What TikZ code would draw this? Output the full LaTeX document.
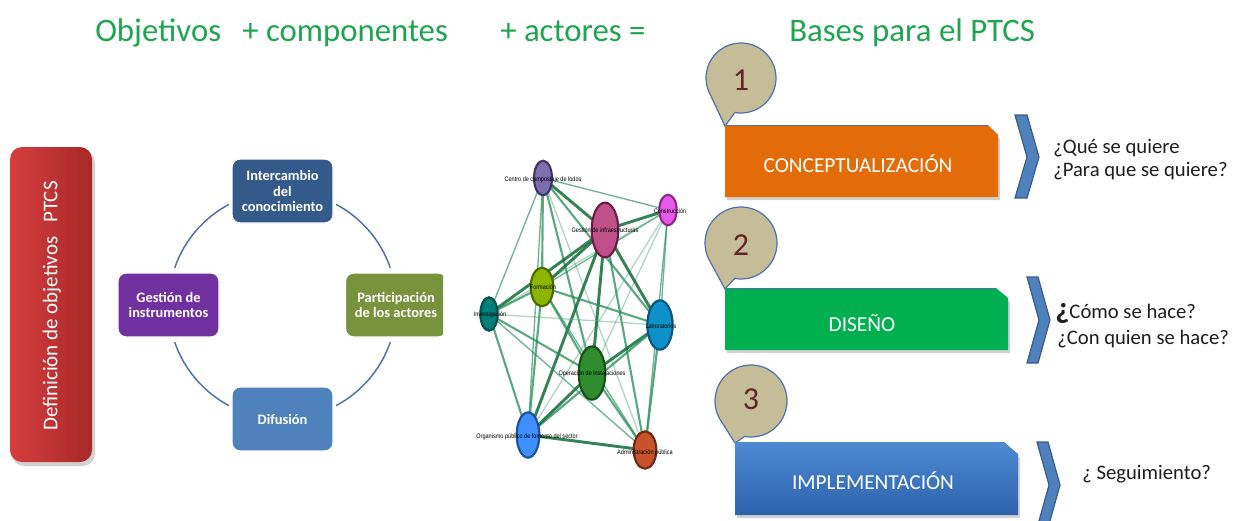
\documentclass[tikz,border=0pt]{standalone}
\usepackage{fontspec}
\setmainfont{Carlito}
\newfontfamily\netfont[FakeStretch=0.85]{Liberation Sans}
\usetikzlibrary{shapes.geometric,backgrounds,calc}
\definecolor{titlegreen}{RGB}{30,165,80}
\definecolor{redL}{RGB}{214,62,62}
\definecolor{redR}{RGB}{168,40,40}
\definecolor{cycblue}{RGB}{79,112,170}
\definecolor{topblue}{RGB}{52,90,140}
\definecolor{purp}{RGB}{112,48,160}
\definecolor{olive}{RGB}{119,147,60}
\definecolor{difblue}{RGB}{79,129,189}
\definecolor{bubtan}{RGB}{196,189,151}
\definecolor{numbrown}{RGB}{99,37,35}
\definecolor{orangebox}{RGB}{227,108,9}
\definecolor{greenbox}{RGB}{0,176,80}
\definecolor{implT}{RGB}{78,138,212}
\definecolor{implB}{RGB}{44,98,172}
\definecolor{chevfill}{RGB}{79,129,189}
\definecolor{chevdraw}{RGB}{56,93,138}
\definecolor{edgegreen}{RGB}{35,140,85}
\definecolor{edgedark}{RGB}{18,110,55}
\definecolor{qtext}{RGB}{30,30,30}
\tikzset{
  titletext/.style={anchor=base west, text=titlegreen, font=\fontsize{24.6}{28}\selectfont, inner sep=0pt},
  cbox/.style={rounded corners=6pt, draw=white, line width=1pt, text=white, align=center,
    font=\bfseries\fontsize{10.8}{11.8}\selectfont, minimum width=75.75pt, minimum height=48pt, inner sep=1pt},
  cyc/.style={cycblue, line width=1.1pt},
  netnode/.style={ellipse, line width=1.6pt, inner sep=0pt},
  netlabel/.style={font=\netfont\fontsize{4.9}{5}\selectfont, inner sep=0pt, text=black},
  ea/.style={edgedark, line width=2.2pt, opacity=0.85},
  eb/.style={edgegreen, line width=1.6pt, opacity=0.75},
  ec/.style={edgegreen, line width=1.0pt, opacity=0.65},
  ed/.style={edgegreen!70, line width=1.0pt, opacity=0.5},
  bubble/.style={fill=bubtan, draw=cycblue, line width=0.9pt},
  numtext/.style={text=numbrown, font=\fontsize{24}{24}\selectfont, inner sep=0pt},
  boxtext/.style={text=white, font=\fontsize{16}{17}\selectfont, inner sep=0pt},
  chev/.style={fill=chevfill, draw=chevdraw, line width=0.9pt, line join=miter},
  qtxt/.style={anchor=base west, text=qtext, font=\fontsize{15.5}{17}\selectfont, inner sep=0pt},
  shadowbox/.style={fill=black, opacity=0.18}
}
\begin{document}
\begin{tikzpicture}[x=0.75pt,y=-0.75pt]
\useasboundingbox (0,0) rectangle (1239,521);
\begin{pgfonlayer}{background}
\fill[white] (0,0) rectangle (1239,521);
\end{pgfonlayer}

% titles
\node[titletext] (t1) at (95,41) {Objetivos};
\node[titletext] (t2) at (242,41) {+ componentes};
\node[titletext] (t3) at (500,41) {+ actores =};
\node[titletext] (t4) at (789,41) {Bases para el PTCS};

% red box
\fill[shadowbox, rounded corners=9pt] (12,151) rectangle (95,466);
\shade[left color=redL, right color=redR, rounded corners=9pt] (10,147) rectangle (92,462);
\node[rotate=90, text=white, font=\fontsize{15.7}{17}\selectfont, inner sep=0pt] (def) at (52,306) {Definición de objetivos\ \ \ PTCS};

% cycle
\coordinate (cc) at (282.5,305);
\foreach \a/\b in {19/62,118/161,199/242,298/341}{
  \draw[cyc] ($(cc)+(\a:114)$) arc[start angle=\a, end angle=\b, radius=114];
}
\node[cbox, fill=topblue] (ic) at (282.5,191) {Intercambio\\del\\conocimiento};
\node[cbox, fill=purp] (gi) at (168.5,305) {Gestión de\\instrumentos};
\begin{scope}
\clip (0,0) rectangle (443,521);
\node[cbox, fill=olive] (pa) at (396,305) {Participación\\de los actores};
\end{scope}
\node[cbox, fill=difblue] (di) at (282.5,419) {Difusión};

% network
\node[netnode, fill={rgb,255:red,125;green,110;blue,175}, draw={rgb,255:red,65;green,52;blue,100}, minimum width=13.5pt, minimum height=26pt] (cen) at (543,178) {};
\node[netnode, fill={rgb,255:red,232;green,90;blue,232}, draw={rgb,255:red,140;green,40;blue,140}, minimum width=13pt, minimum height=23pt] (con) at (668,210) {};
\node[netnode, fill={rgb,255:red,192;green,80;blue,138}, draw={rgb,255:red,107;green,30;blue,69}, minimum width=20pt, minimum height=41pt] (ges) at (605,230) {};
\node[netnode, fill={rgb,255:red,141;green,181;blue,0}, draw={rgb,255:red,74;green,106;blue,0}, minimum width=17pt, minimum height=29pt] (frm) at (542,287) {};
\node[netnode, fill={rgb,255:red,0;green,128;blue,120}, draw={rgb,255:red,0;green,80;blue,75}, minimum width=13pt, minimum height=25pt] (inv) at (489,314) {};
\node[netnode, fill={rgb,255:red,14;green,144;blue,200}, draw={rgb,255:red,10;green,85;blue,125}, minimum width=19pt, minimum height=37pt] (lab) at (660,325) {};
\node[netnode, fill={rgb,255:red,46;green,139;blue,46}, draw={rgb,255:red,24;green,80;blue,24}, minimum width=20pt, minimum height=40pt] (ope) at (592,373) {};
\node[netnode, fill={rgb,255:red,63;green,143;blue,255}, draw={rgb,255:red,30;green,80;blue,160}, minimum width=17pt, minimum height=34pt] (org) at (528,435) {};
\node[netnode, fill={rgb,255:red,200;green,82;blue,42}, draw={rgb,255:red,110;green,40;blue,20}, minimum width=17pt, minimum height=28pt] (adm) at (645,450) {};
\begin{pgfonlayer}{background}
\draw[ec] (cen.center) -- (con.center);
\draw[ea] (cen.center) -- (ges.center);
\draw[eb] (cen.center) -- (frm.center);
\draw[ec] (cen.center) -- (inv.center);
\draw[eb] (cen.center) -- (ope.center);
\draw[eb] (cen.center) -- (lab.center);
\draw[ec] (cen.center) -- (org.center);
\draw[ed] (cen.center) -- (adm.center);
\draw[ea] (con.center) -- (ges.center);
\draw[ec] (con.center) -- (frm.center);
\draw[ec] (con.center) -- (lab.center);
\draw[ed] (con.center) -- (ope.center);
\draw[ed] (con.center) -- (org.center);
\draw[ec] (con.center) -- (adm.center);
\draw[ed] (con.center) -- (inv.center);
\draw[ea] (ges.center) -- (frm.center);
\draw[ea] (ges.center) -- (inv.center);
\draw[ea] (ges.center) -- (ope.center);
\draw[ea] (ges.center) -- (lab.center);
\draw[ea] (ges.center) -- (org.center);
\draw[eb] (ges.center) -- (adm.center);
\draw[eb] (frm.center) -- (inv.center);
\draw[eb] (frm.center) -- (lab.center);
\draw[eb] (frm.center) -- (org.center);
\draw[eb] (frm.center) -- (ope.center);
\draw[ec] (frm.center) -- (adm.center);
\draw[ed] (inv.center) -- (lab.center);
\draw[eb] (inv.center) -- (ope.center);
\draw[eb] (inv.center) -- (org.center);
\draw[ec] (inv.center) -- (adm.center);
\draw[ea] (lab.center) -- (ope.center);
\draw[eb] (lab.center) -- (org.center);
\draw[eb] (lab.center) -- (adm.center);
\draw[ea] (ope.center) -- (org.center);
\draw[eb] (ope.center) -- (adm.center);
\draw[ea] (org.center) -- (adm.center);
\end{pgfonlayer}
\node[netlabel] (lcen) at (543,180) {Centro de compostaje de lodos};
\node[netlabel] (lcon) at (670,211) {Construcción};
\node[netlabel] (lges) at (605,230) {Gestión de infraestructuras};
\node[netlabel] (lfrm) at (543,287) {Formación};
\node[netlabel] (linv) at (490,315) {Investigación};
\node[netlabel] (llab) at (661,326) {Laboratorios};
\node[netlabel] (lope) at (592,374) {Operación de instalaciones};
\node[netlabel] (lorg) at (527,437) {Organismo público de fomento del sector};
\node[netlabel] (ladm) at (645,453) {Administración pública};

% bubbles
\coordinate (c1) at (741,78); \coordinate (p1) at (725,126);
\draw[bubble] (p1) -- ($(c1)+(100:35)$) arc[start angle=100, end angle=-210, radius=35] -- cycle;
\node[numtext] (n1) at (741,80) {1};
\coordinate (c2) at (741,243); \coordinate (p2) at (725,289);
\draw[bubble] (p2) -- ($(c2)+(100:36)$) arc[start angle=100, end angle=-210, radius=36] -- cycle;
\node[numtext] (n2) at (741,245) {2};
\coordinate (c3) at (751,401); \coordinate (p3) at (735,443);
\draw[bubble] (p3) -- ($(c3)+(100:36)$) arc[start angle=100, end angle=-210, radius=36] -- cycle;
\node[numtext] (n3) at (751,399) {3};

% right boxes
\fill[shadowbox] (727,129) -- (988,129) -- (1000,139) -- (1000,200) -- (727,200) -- cycle;
\fill[orangebox] (725,125) -- (988,125) -- (998,135) -- (998,197) -- (725,197) -- cycle;
\draw[cycblue, line width=0.6pt] (725,125) -- (988,125);
\node[boxtext] (b1) at (858,164) {CONCEPTUALIZACIÓN};

\fill[shadowbox] (727,292) -- (996,292) -- (1010,302) -- (1010,353) -- (727,353) -- cycle;
\fill[greenbox] (725,288) -- (996,288) -- (1008,298) -- (1008,350) -- (725,350) -- cycle;
\draw[cycblue, line width=0.6pt] (725,288) -- (996,288);
\node[boxtext] (b2) at (862,323) {DISEÑO};

\fill[shadowbox] (737,446) -- (1006,446) -- (1020,458) -- (1020,518) -- (737,518) -- cycle;
\shade[top color=implT, bottom color=implB] (735,442) -- (1004,442) -- (1018,454) -- (1018,515) -- (735,515) -- cycle;
\node[boxtext] (b3) at (873,481) {IMPLEMENTACIÓN};

% chevrons
\draw[chev] (1015,115) -- (1027,115) -- (1039,157) -- (1027,198) -- (1015,198) -- (1027,157) -- cycle;
\draw[chev] (1027,277) -- (1038,277) -- (1050,320) -- (1038,363) -- (1027,363) -- (1039,320) -- cycle;
\draw[chev] (1037,442) -- (1048,442) -- (1060,485) -- (1048,528) -- (1037,528) -- (1049,485) -- cycle;

% questions
\node[qtxt] (q1) at (1053,153) {¿Qué se quiere};
\node[qtxt] (q2) at (1053,176) {¿Para que se quiere?};
\node[qtxt] (q3) at (1055,318) {{\fontsize{23}{23}\selectfont\bfseries ¿}Cómo se hace?};
\node[qtxt] (q4) at (1057,344) {¿Con quien se hace?};
\node[qtxt] (q5) at (1082,479) {¿ Seguimiento?};
\end{tikzpicture}
\end{document}
